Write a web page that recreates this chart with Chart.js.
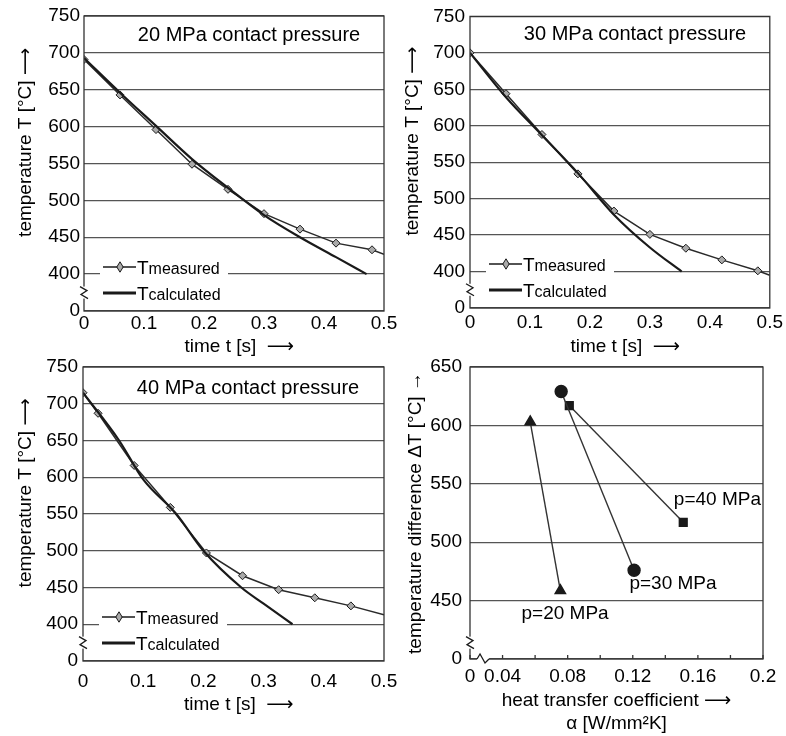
<!DOCTYPE html>
<html><head><meta charset="utf-8">
<script src="https://cdn.jsdelivr.net/npm/chart.js@4.4.1/dist/chart.umd.min.js"></script>
<style>
html,body{margin:0;padding:0;background:#fff;}
#wrap{position:relative;width:786px;height:736px;overflow:hidden;}
#wrap canvas{position:absolute;left:0;top:0;}
</style></head><body>
<div id="wrap">
<canvas id="c1" width="786" height="736"></canvas>
<canvas id="c2" width="786" height="736"></canvas>
<canvas id="c3" width="786" height="736"></canvas>
<canvas id="c4" width="786" height="736"></canvas>
</div>
<script>
// ---------- data ----------
const timeTicks = [0, 0.1, 0.2, 0.3, 0.4, 0.5];
const timeTickLabels = ['0', '0.1', '0.2', '0.3', '0.4', '0.5'];
const tempTicks = [350, 400, 450, 500, 550, 600, 650, 700, 750];       // 350 = axis break, shown as 0
const tempTickLabels = ['0', '400', '450', '500', '550', '600', '650', '700', '750'];

const p20MeasT    = [0, 0.06, 0.12, 0.18, 0.24, 0.30, 0.36, 0.42, 0.48, 0.50];
const p20MeasTemp = [691, 643, 596, 549, 515, 482, 461, 442, 433, 427];
const p20CalcT    = [0, 0.06, 0.12, 0.18, 0.24, 0.30, 0.36, 0.42, 0.471];
const p20CalcTemp = [693, 646, 601, 556, 517, 480, 450, 423, 400];

const p30MeasT    = [0, 0.06, 0.12, 0.18, 0.24, 0.30, 0.36, 0.42, 0.48, 0.50];
const p30MeasTemp = [700, 644, 588, 534, 483, 451, 432, 416, 401, 395];
const p30CalcT    = [0, 0.06, 0.12, 0.18, 0.24, 0.30, 0.353];
const p30CalcTemp = [700, 639, 587, 535, 478, 433, 400];

const p40MeasT    = [0, 0.025, 0.085, 0.145, 0.205, 0.265, 0.325, 0.385, 0.445, 0.50];
const p40MeasTemp = [715, 687, 616, 559, 497, 466, 447, 436, 425, 413];
const p40CalcT    = [0, 0.06, 0.10, 0.155, 0.20, 0.263, 0.30, 0.348];
const p40CalcTemp = [715, 650, 597, 550, 500, 450, 428, 400];

const alphaTicks = [0.02, 0.04, 0.06, 0.08, 0.10, 0.12, 0.14, 0.16, 0.18, 0.20]; // 0.02 = axis break, shown as 0
const alphaTickLabels = ['0', '0.04', '', '0.08', '', '0.12', '', '0.16', '', '0.2'];
const dTTicks = [400, 450, 500, 550, 600, 650];                                  // 400 = axis break, shown as 0
const dTTickLabels = ['0', '450', '500', '550', '600', '650'];

const alpha20 = [0.057, 0.0755];  const dT20 = [603, 458.5];
const alpha30 = [0.076, 0.1208];  const dT30 = [629, 476];
const alpha40 = [0.081, 0.151];   const dT40 = [617, 517];
const pressureLabels = ['p=20 MPa', 'p=30 MPa', 'p=40 MPa'];

// ---------- helpers ----------
const FONT = "'Liberation Sans', Arial, 'DejaVu Sans', sans-serif";
Chart.defaults.font.family = FONT;
Chart.defaults.font.size = 19;
Chart.defaults.color = '#000';
const zip = (xs, ys) => xs.map((x, i) => ({x, y: ys[i]}));
const INK = '#1a1a1a';
const GRID = '#555';

function diamond(ctx, x, y, r) {
  ctx.beginPath();
  ctx.moveTo(x, y - r * 1.3); ctx.lineTo(x + r * 0.8, y); ctx.lineTo(x, y + r * 1.3); ctx.lineTo(x - r * 0.8, y); ctx.closePath();
  ctx.fillStyle = '#aaa'; ctx.fill(); ctx.strokeStyle = INK; ctx.lineWidth = 1; ctx.stroke();
}

const deco = {
  id: 'deco',
  afterDraw(chart, args, o) {
    const ctx = chart.ctx, ca = chart.chartArea;
    const xs = chart.scales.x, ys = chart.scales.y;
    ctx.save();
    // frame
    ctx.strokeStyle = '#333'; ctx.lineWidth = 1.3;
    ctx.strokeRect(ca.left, ca.top, ca.right - ca.left, ca.bottom - ca.top);
    // small inner tick marks on bottom axis
    if (o.innerTicks) {
      ctx.beginPath();
      alphaTicks.forEach(v => { const px = xs.getPixelForValue(v); ctx.moveTo(px, ca.bottom); ctx.lineTo(px, ca.bottom - 4); });
      ctx.stroke();
    }
    // panel title
    if (o.title) {
      ctx.font = '20px ' + FONT; ctx.fillStyle = '#000'; ctx.textAlign = 'center'; ctx.textBaseline = 'middle';
      ctx.fillText(o.title, ca.left + 165, ca.top + o.titleDy);
    }
    // legend
    if (o.legend) {
      const L = ca.left, B = ca.bottom;
      ctx.fillStyle = '#fff'; ctx.fillRect(L + 16, B - 56, 128, 50);
      const rows = [[B - 44, 'measured', 1.5, true], [B - 18, 'calculated', 3, false]];
      rows.forEach(([y, sub, lw, mk]) => {
        ctx.strokeStyle = INK; ctx.lineWidth = lw;
        ctx.beginPath(); ctx.moveTo(L + 19, y); ctx.lineTo(L + 52, y); ctx.stroke();
        if (mk) diamond(ctx, L + 36, y, 4);
        ctx.fillStyle = '#000'; ctx.textAlign = 'left'; ctx.textBaseline = 'alphabetic';
        ctx.font = '19px ' + FONT; ctx.fillText('T', L + 53, y + 7);
        const w = ctx.measureText('T').width;
        ctx.font = '16px ' + FONT; ctx.fillText(sub, L + 53 + w, y + 7);
      });
    }
    // axis-break squiggles
    ctx.strokeStyle = INK; ctx.lineWidth = 1.3;
    if (o.breakY != null) {
      const x = ca.left, y = ys.getPixelForValue(o.breakY);
      ctx.fillStyle = '#fff'; ctx.fillRect(x - 2, y - 6, 4, 12);
      ctx.beginPath(); ctx.moveTo(x - 4, y - 6); ctx.lineTo(x + 3, y - 2); ctx.lineTo(x - 3, y + 2); ctx.lineTo(x + 4, y + 6); ctx.stroke();
    }
    if (o.breakX != null) {
      const x = xs.getPixelForValue(o.breakX), y = ca.bottom;
      ctx.fillStyle = '#fff'; ctx.fillRect(x - 6, y - 2, 12, 4);
      ctx.beginPath(); ctx.moveTo(x - 6, y); ctx.lineTo(x - 3, y - 5); ctx.lineTo(x + 2, y + 4); ctx.lineTo(x + 6, y); ctx.stroke();
    }
    // point labels
    if (o.pointLabels) {
      ctx.font = '19px ' + FONT; ctx.fillStyle = '#000'; ctx.textAlign = 'center'; ctx.textBaseline = 'middle';
      o.pointLabels.forEach(([t, vx, vy]) => ctx.fillText(t, xs.getPixelForValue(vx), ys.getPixelForValue(vy)));
    }
    ctx.restore();
  }
};
Chart.register(deco);

function tempPanel(id, c) {
  const lastIdx = c.measT.length - 1;
  new Chart(document.getElementById(id), {
    type: 'line',
    data: {
      datasets: [
        { data: zip(c.calcT, c.calcTemp), borderColor: INK, borderWidth: 2.2, pointRadius: 0, tension: 0.35, cubicInterpolationMode: 'monotone' },
        { data: zip(c.measT, c.measTemp), borderColor: '#2a2a2a', borderWidth: 1.5, tension: 0,
          pointStyle: 'rectRot', pointRadius: ctx => ctx.dataIndex === lastIdx ? 0 : 4,
          pointBackgroundColor: '#aaa', pointBorderColor: INK, pointBorderWidth: 1 }
      ]
    },
    options: {
      responsive: false, animation: false,
      layout: { padding: c.pad },
      plugins: { legend: { display: false }, tooltip: { enabled: false },
        deco: { title: c.title, titleDy: c.titleDy, legend: true, breakY: 375 } },
      scales: {
        x: { type: 'linear', min: 0, max: 0.5,
          afterFit: s => { s.height = c.xh; },
          afterBuildTicks: s => { s.ticks = timeTicks.map(v => ({value: v})); },
          ticks: { callback: (v, i) => timeTickLabels[i], padding: c.xtp, maxRotation: 0, autoSkip: false },
          grid: { display: false, drawTicks: false }, border: { display: false },
          title: { display: true, text: '  time t [s]  \u27F6', padding: 0 } },
        y: { type: 'linear', min: 350, max: 750,
          afterFit: s => { s.width = c.yw; },
          afterBuildTicks: s => { s.ticks = tempTicks.map(v => ({value: v})); },
          ticks: { callback: (v, i) => tempTickLabels[i], padding: c.ytp, autoSkip: false },
          grid: { color: GRID, lineWidth: 1.3, drawTicks: false }, border: { display: false },
          title: { display: true, text: '        temperature T [°C] \u27F6', padding: 0 } }
      }
    }
  });
}

tempPanel('c1', { measT: p20MeasT, measTemp: p20MeasTemp, calcT: p20CalcT, calcTemp: p20CalcTemp,
  title: '20 MPa contact pressure', titleDy: 19,
  pad: { left: 14, right: 402, top: 16, bottom: 378 }, yw: 70, xh: 47, xtp: 1, ytp: 4 });
tempPanel('c2', { measT: p30MeasT, measTemp: p30MeasTemp, calcT: p30CalcT, calcTemp: p30CalcTemp,
  title: '30 MPa contact pressure', titleDy: 18,
  pad: { left: 401, right: 16, top: 15, bottom: 378 }, yw: 69, xh: 50, xtp: 3, ytp: 5 });
tempPanel('c3', { measT: p40MeasT, measTemp: p40MeasTemp, calcT: p40CalcT, calcTemp: p40CalcTemp,
  title: '40 MPa contact pressure', titleDy: 21,
  pad: { left: 14, right: 402, top: 367, bottom: 20 }, yw: 69, xh: 55, xtp: 9, ytp: 5 });

// ---------- panel 4 ----------
const mk = (xs, ys, style, r) => ({ data: zip(xs, ys), showLine: true, borderColor: '#333', borderWidth: 1.4,
  pointStyle: style, pointRadius: r, pointBackgroundColor: INK, pointBorderColor: INK, tension: 0 });
new Chart(document.getElementById('c4'), {
  type: 'scatter',
  data: { datasets: [ mk(alpha20, dT20, 'triangle', 6), mk(alpha30, dT30, 'circle', 6), mk(alpha40, dT40, 'rect', 5.5) ] },
  options: {
    responsive: false, animation: false,
    layout: { padding: { left: 404, right: 23, top: 367, bottom: 1 } },
    plugins: { legend: { display: false }, tooltip: { enabled: false },
      deco: { innerTicks: true, breakY: 414, breakX: 0.028,
        pointLabels: [[pressureLabels[0], 0.0784, 439], [pressureLabels[1], 0.1447, 464], [pressureLabels[2], 0.172, 536]] } },
    scales: {
      x: { type: 'linear', min: 0.02, max: 0.2,
        afterFit: s => { s.height = 76; },
        afterBuildTicks: s => { s.ticks = alphaTicks.map(v => ({value: v})); },
        ticks: { callback: (v, i) => alphaTickLabels[i], padding: 6, maxRotation: 0, autoSkip: false },
        grid: { display: false, drawTicks: false }, border: { display: false },
        title: { display: true, text: ['heat transfer coefficient \u27F6', 'α [W/mm²K]'], padding: 0 } },
      y: { type: 'linear', min: 400, max: 650,
        afterFit: s => { s.width = 66; },
        afterBuildTicks: s => { s.ticks = dTTicks.map(v => ({value: v})); },
        ticks: { callback: (v, i) => dTTickLabels[i], padding: 8, autoSkip: false },
        grid: { color: GRID, lineWidth: 1.3, drawTicks: false }, border: { display: false },
        title: { display: true, text: 'temperature difference ΔT [°C] \u2192', padding: 0 } }
    }
  }
});
</script>
</body></html>
